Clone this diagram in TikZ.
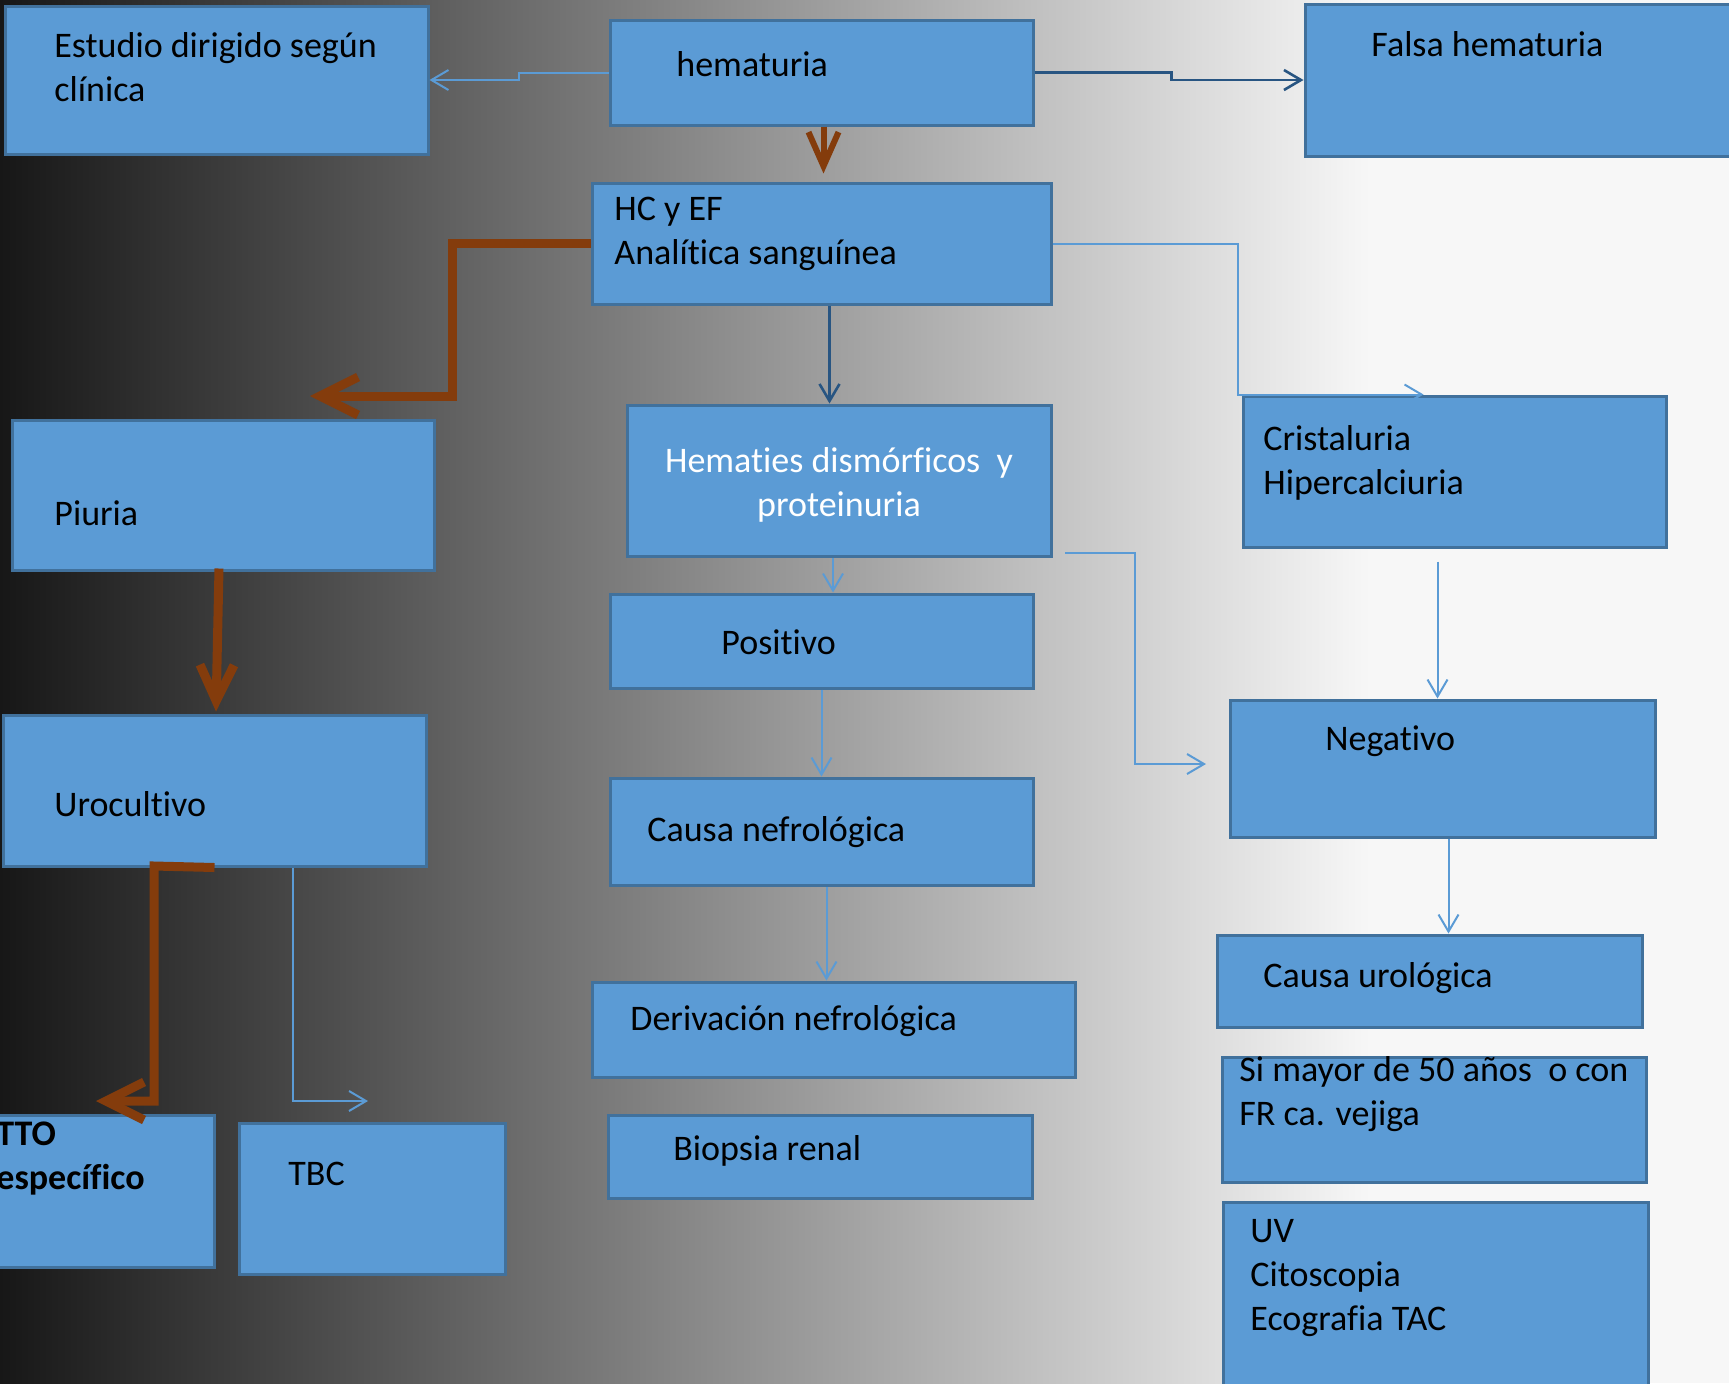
\documentclass[tikz,border=0pt]{standalone}
\usepackage{fontspec}
\setmainfont[Ligatures={NoCommon}]{Carlito}
\usetikzlibrary{arrows.meta,calc,fit}
\definecolor{boxfill}{RGB}{91,155,213}
\definecolor{boxline}{RGB}{65,113,156}
\definecolor{lblue}{RGB}{91,155,213}
\definecolor{dblue}{RGB}{40,85,130}
\definecolor{brownc}{RGB}{132,60,12}
\definecolor{bgdark}{RGB}{23,23,23}
\definecolor{bglight}{RGB}{247,247,247}
\begin{document}
\begin{tikzpicture}[x=0.5pt,y=-0.5pt,
  box/.style={draw=boxline,fill=boxfill,line width=1.5pt,inner sep=0pt},
  lbl/.style={anchor=west,inner sep=0pt,align=left,font=\fontsize{18}{22}\selectfont},
  thinb/.style={draw=lblue,line width=1pt,-{Straight Barb[length=8.5pt,width=10pt]}},
  darkb/.style={draw=dblue,line width=1.3pt,-{Straight Barb[length=8.5pt,width=10pt]}},
  brownarr/.style={draw=brownc,line width=4.5pt,line join=miter,-{Straight Barb[length=19pt,width=19pt]}}]
\useasboundingbox (0,0) rectangle (1729,1383);
\clip (0,0) rectangle (1729,1383);
\shade[left color=bgdark,right color=bglight] (0,0) rectangle (1370,1383);
\fill[bglight] (1369,0) rectangle (1729,1383);

% boxes
\node[box,fit={(5,6) (428,154)}] (est) {};
\node[box,fit={(610,20) (1033,125)}] (hem) {};
\node[box,fit={(1305,4) (1732,156)}] (fal) {};
\node[box,fit={(592,183) (1051,304)}] (hc) {};
\node[box,fit={(12,420) (434,570)}] (piu) {};
\node[box,fit={(627,405) (1051,556)}] (hmd) {};
\node[box,fit={(1243,396) (1666,547)}] (cri) {};
\node[box,fit={(610,594) (1033,688)}] (pos) {};
\node[box,fit={(1230,700) (1655,837)}] (neg) {};
\node[box,fit={(3,715) (426,866)}] (uro) {};
\node[box,fit={(610,778) (1033,885)}] (cnef) {};
\node[box,fit={(1217,935) (1642,1027)}] (curo) {};
\node[box,fit={(592,982) (1075,1077)}] (der) {};
\node[box,fit={(1222,1057) (1646,1182)}] (sim) {};
\node[box,fit={(608,1115) (1032,1198)}] (bio) {};
\node[box,fit={(1223,1202) (1648,1395)}] (uv) {};
\node[box,fit={(-8,1115) (214,1267)}] (tto) {};
\node[box,fit={(239,1123) (505,1274)}] (tbc) {};

% texts
\node[lbl] (testd) at (54,67) {Estudio dirigido según\\clínica};
\node[lbl] (themt) at (676,64) {hematuria};
\node[lbl] (tfal) at (1371,44) {Falsa hematuria};
\node[lbl] (thc) at (614,234) {HC y EF\\Analítica sanguínea};
\node[lbl] (tpiu) at (54,513) {Piuria};
\node[lbl,anchor=center,align=center,text=white] (thmd) at (839,485) {Hematies dismórficos\ \ y\\proteinuria};
\node[lbl] (tcri) at (1263,463) {Cristaluria\\Hipercalciuria};
\node[lbl] (tpos) at (721,642) {Positivo};
\node[lbl] (tneg) at (1325,741) {Negativo};
\node[lbl] (turo) at (54,804) {Urocultivo};
\node[lbl] (tcnef) at (647,832) {Causa nefrológica};
\node[lbl] (tcuro) at (1263,978) {Causa urológica};
\node[lbl] (tder) at (630,1021) {Derivación nefrológica};
\node[lbl] (tsim) at (1239,1094) {Si mayor de 50 años\ \ o con\\FR ca. vejiga};
\node[lbl] (tbio) at (673,1151) {Biopsia renal};
\node[lbl] (tuv) at (1250,1278) {UV\\Citoscopia\\Ecografia TAC};
\node[lbl,font=\fontsize{18}{22}\selectfont\bfseries] (ttto) at (-4,1159) {TTO\\específico};
\node[lbl] (ttbc) at (288,1174) {TBC};

% free ends
\coordinate (piuin) at (310,396);
\coordinate (ttoin) at (96,1101);
\coordinate (tbcin) at (368,1101);
\coordinate (negin) at (1206,764);
\coordinate (hmdout) at (1065,553);

% connectors
\draw[thinb] (hem.west) -- ++(-90,0) |- (est.east);
\draw[darkb] (hem.east) -- ++(137,0) |- (fal.west);
\draw[brownarr,line width=3pt,-{Straight Barb[length=17pt,width=15pt]}] ([xshift=1pt]hem.south) -- ([xshift=1pt,yshift=4pt]hc.north);
\draw[brownarr] (hc.west) -- (452,243.5) |- (piuin);
\draw[darkb] ([xshift=4pt]hc.south) -- ([xshift=4pt]hc.south |- hmd.north);
\draw[thinb] (hc.east) -| ([xshift=-2pt]cri.north west) -- ([xshift=91pt]cri.north west);
\draw[thinb] ([xshift=-3pt]hmd.south) -- ([xshift=-3pt]hmd.south |- pos.north);
\draw[thinb] (hmdout) -- ++(70,0) |- (negin);
\draw[thinb] ($(cri.south)+(-17,13)$) -- ($(neg.north)+(-5,0)$);
\draw[thinb] (pos.south) -- (cnef.north);
\draw[thinb] ($(cnef.south)+(5,0)$) -- ($(der.north)+(-7,0)$);
\draw[thinb] ($(neg.south)+(6,0)$) -- ($(curo.north)+(19,0)$);
\draw[brownarr,-{Straight Barb[length=18pt,width=17pt]}] ($(piu.south)+(-4,-3)$) -- ($(uro.north)+(1.5,-2)$);
\draw[brownarr] (uro.south) -- (154,866) -- (154,1101) -- (ttoin);
\draw[thinb] ($(uro.south)+(78,0)$) |- (tbcin);
\end{tikzpicture}
\end{document}
